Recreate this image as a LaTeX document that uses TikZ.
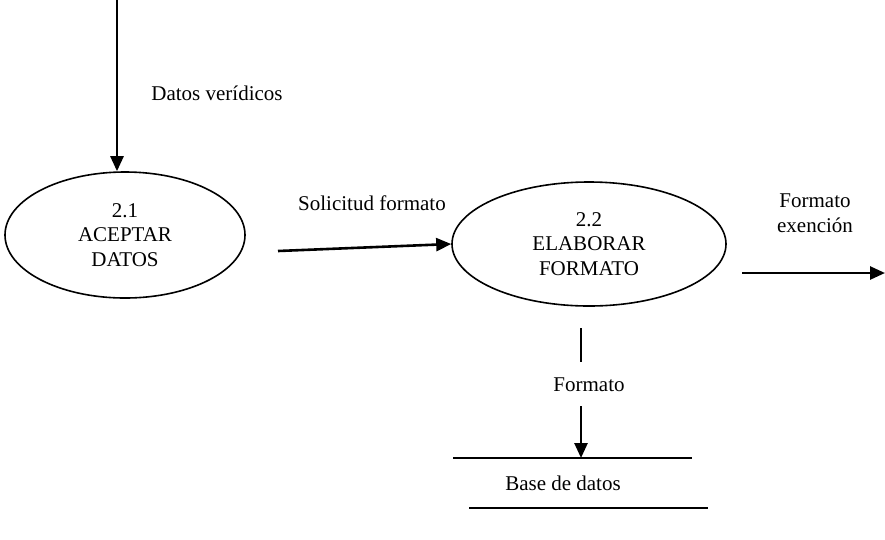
\documentclass[tikz,border=0pt]{standalone}
\usepackage{fontspec}
\setmainfont{Liberation Serif}
\usetikzlibrary{arrows.meta,shapes.geometric}

\begin{document}
\begin{tikzpicture}[x=1pt,y=-1pt,
    proc/.style={draw,ellipse,line width=1.6pt,inner sep=0pt,align=center,
      minimum width=240pt,minimum height=126pt},
    flow/.style={line width=2.6pt,-{Triangle[length=15pt,width=13pt]}},
    lbl/.style={align=center,inner sep=0pt},
    font=\fontsize{21}{24.5}\selectfont]
      \useasboundingbox (0,0) rectangle (885,539);

      \node[proc] (acept) at (125,235) {2.1\\ACEPTAR\\DATOS};
      \node[proc,minimum width=274pt,minimum height=124pt] (elab) at (589,244) {2.2\\ELABORAR\\FORMATO};

      \coordinate (entra) at (117,0);
      \coordinate (solic) at (278,251);
      \coordinate (sale1) at (742,273);
      \coordinate (sale2) at (885,273);
      \coordinate (fmt1) at (581,328);
      \coordinate (fmt2) at (581,362);
      \coordinate (fmt3) at (581,406);
      \coordinate (bd1) at (453,458);
      \coordinate (bd2) at (692,458);
      \coordinate (bd3) at (469,508);
      \coordinate (bd4) at (708,508);

      \draw[flow] (entra) -- (entra |- acept.north);
      \draw[flow] (solic) -- (elab.west);
      \draw[flow] (sale1) -- (sale2);
      \draw[line width=2.6pt] (fmt1) -- (fmt2);
      \draw[flow] (fmt3) -- (fmt3 |- bd1);
      \draw[line width=1.6pt] (bd1) -- (bd2);
      \draw[line width=2pt] (bd3) -- (bd4);

      \node[lbl] (verid) at (217,93) {Datos verídicos};
      \node[lbl] (solfmt) at (372,203) {Solicitud formato};
      \node[lbl] (exen) at (815,213) {Formato\\exención};
      \node[lbl] (fmt) at (589,385) {Formato};
      \node[lbl] (base) at (563,483) {Base de datos};

    \end{tikzpicture}
\end{document}
